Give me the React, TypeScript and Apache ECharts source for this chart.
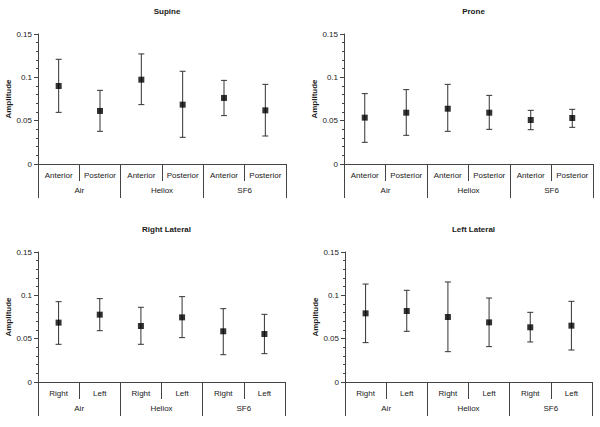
import React, { useEffect, useRef } from "react";
import * as echarts from "echarts";

const titles = ["Supine", "Prone", "Right Lateral", "Left Lateral"];
const groups = ["Air", "Heliox", "SF6"];
const subAP = ["Anterior", "Posterior", "Anterior", "Posterior", "Anterior", "Posterior"];
const subRL = ["Right", "Left", "Right", "Left", "Right", "Left"];
const yTicks = [0, 0.05, 0.1, 0.15];

const supineMean = [0.09, 0.0612, 0.0973, 0.0685, 0.0762, 0.0619];
const supineLow = [0.0596, 0.0377, 0.0685, 0.0308, 0.0558, 0.0323];
const supineHigh = [0.1208, 0.085, 0.127, 0.107, 0.0965, 0.0919];

const proneMean = [0.0535, 0.0592, 0.0638, 0.0592, 0.0508, 0.0531];
const proneLow = [0.025, 0.0331, 0.0377, 0.04, 0.0396, 0.0423];
const proneHigh = [0.0812, 0.0858, 0.0919, 0.0792, 0.0619, 0.0631];

const rightMean = [0.0685, 0.0777, 0.0646, 0.0746, 0.0585, 0.0554];
const rightLow = [0.0435, 0.0592, 0.0435, 0.0512, 0.0315, 0.0327];
const rightHigh = [0.0927, 0.0962, 0.0862, 0.0985, 0.0846, 0.0781];

const leftMean = [0.0792, 0.0819, 0.075, 0.0688, 0.0631, 0.065];
const leftLow = [0.0454, 0.0585, 0.035, 0.0408, 0.0462, 0.0369];
const leftHigh = [0.113, 0.1058, 0.1154, 0.0969, 0.0804, 0.0931];

const panels = [
  { title: titles[0], subs: subAP, mean: supineMean, low: supineLow, high: supineHigh },
  { title: titles[1], subs: subAP, mean: proneMean, low: proneLow, high: proneHigh },
  { title: titles[2], subs: subRL, mean: rightMean, low: rightLow, high: rightHigh },
  { title: titles[3], subs: subRL, mean: leftMean, low: leftLow, high: leftHigh },
];

const grids = [
  { left: 38, top: 34, width: 248, height: 130 },
  { left: 344, top: 34, width: 249, height: 130 },
  { left: 38, top: 252, width: 247, height: 130 },
  { left: 345, top: 252, width: 247, height: 130 },
];

const FONT = "Liberation Sans, Arial, sans-serif";
const AXIS_COLOR = "#444";
const TEXT_COLOR = "#1a1a1a";

export default function App() {
  const ref = useRef<HTMLDivElement>(null);
  useEffect(() => {
    document.body.style.margin = "0";
    if (!ref.current) return;
    const chart = echarts.init(ref.current, undefined, { renderer: "svg" });

    const xAxes: any[] = [];
    const yAxes: any[] = [];
    const series: any[] = [];
    const title: any[] = [];

    panels.forEach((p, i) => {
      const g = grids[i];
      title.push({
        text: p.title,
        left: g.left + g.width / 2,
        top: g.top - 32,
        textAlign: "center",
        textStyle: { fontFamily: FONT, fontSize: 8, fontWeight: "bold", color: TEXT_COLOR },
      });
      xAxes.push({
        type: "category",
        gridIndex: i,
        data: p.subs,
        boundaryGap: true,
        axisLine: { show: true, lineStyle: { color: AXIS_COLOR, width: 1 } },
        axisTick: { show: true, length: 17, inside: false, lineStyle: { color: AXIS_COLOR } },
        axisLabel: { margin: 7, fontFamily: FONT, fontSize: 8, color: TEXT_COLOR, interval: 0 },
        splitLine: { show: false },
      });
      xAxes.push({
        type: "category",
        gridIndex: i,
        position: "bottom",
        data: groups,
        boundaryGap: true,
        axisLine: { show: false },
        axisTick: { show: true, length: 34, lineStyle: { color: AXIS_COLOR } },
        axisLabel: { margin: 22, fontFamily: FONT, fontSize: 8, color: TEXT_COLOR, interval: 0 },
        splitLine: { show: false },
      });
      yAxes.push({
        type: "value",
        gridIndex: i,
        min: 0,
        max: 0.15,
        interval: 0.05,
        name: "Amplitude",
        nameLocation: "middle",
        nameRotate: 90,
        nameGap: 25,
        nameTextStyle: { fontFamily: FONT, fontSize: 8, fontWeight: "bold", color: TEXT_COLOR },
        axisLine: { show: true, lineStyle: { color: AXIS_COLOR, width: 1 } },
        axisTick: { show: true, length: 4, lineStyle: { color: AXIS_COLOR } },
        minorTick: { show: true, splitNumber: 5, length: 2, lineStyle: { color: AXIS_COLOR } },
        axisLabel: {
          margin: 6,
          fontFamily: FONT,
          fontSize: 8,
          color: TEXT_COLOR,
          customValues: yTicks,
          formatter: (v: number) => String(Math.round(v * 100) / 100),
        },
        splitLine: { show: false },
      });
      const errData = p.mean.map((_, k) => [k, p.low[k], p.high[k]]);
      series.push({
        type: "custom",
        xAxisIndex: 2 * i,
        yAxisIndex: i,
        data: errData,
        encode: { x: 0, y: [1, 2] },
        renderItem: (params: any, api: any) => {
          const x = api.value(0);
          const lo = api.coord([x, api.value(1)]);
          const hi = api.coord([x, api.value(2)]);
          const cap = 3;
          const style = { stroke: "#333", lineWidth: 1 };
          return {
            type: "group",
            children: [
              { type: "line", shape: { x1: hi[0], y1: hi[1], x2: lo[0], y2: lo[1] }, style },
              { type: "line", shape: { x1: hi[0] - cap, y1: hi[1], x2: hi[0] + cap, y2: hi[1] }, style },
              { type: "line", shape: { x1: lo[0] - cap, y1: lo[1], x2: lo[0] + cap, y2: lo[1] }, style },
            ],
          };
        },
        z: 2,
      });
      series.push({
        type: "scatter",
        xAxisIndex: 2 * i,
        yAxisIndex: i,
        data: p.mean.map((m, k) => [k, m]),
        symbol: "rect",
        symbolSize: 6,
        itemStyle: { color: "#000" },
        z: 3,
      });
    });

    chart.setOption({
      animation: false,
      backgroundColor: "#fff",
      title,
      grid: grids.map((g) => ({ ...g, containLabel: false })),
      xAxis: xAxes,
      yAxis: yAxes,
      series,
    });
    return () => chart.dispose();
  }, []);
  return <div ref={ref} style={{ width: 600, height: 427 }} />;
}
